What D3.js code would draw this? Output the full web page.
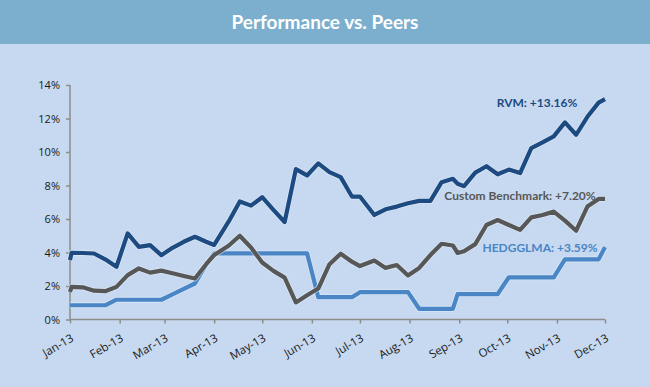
<!DOCTYPE html>
<html>
<head>
  <meta charset="utf-8">
  <title>Performance vs. Peers</title>
  <style>
    body {
      margin: 0;
      padding: 0;
      background: #c6d9f0;
    }

    .axis path,
    .axis line {
      stroke: #8c8c8c;
      stroke-width: 1.5;
    }

    .axis text {
      font-family: "Open Sans", sans-serif;
      font-size: 11px;
      fill: #1a1a1a;
    }

    .series {
      fill: none;
      stroke-width: 4.2;
      stroke-linejoin: round;
      stroke-linecap: butt;
    }

    .end-label {
      font-family: Lato, "Open Sans", sans-serif;
      font-weight: bold;
      font-size: 12px;
    }
  </style>
</head>
<body>
  <div id="chart"></div>

  <script src="https://d3js.org/d3.v7.min.js"></script>
  <script>
    // observation dates (weekly plus a few month-end points)
    var dates = ["2013-01-01", "2013-01-02", "2013-01-09", "2013-01-16", "2013-01-23", "2013-01-30",
      "2013-02-06", "2013-02-13", "2013-02-20", "2013-02-27", "2013-03-06", "2013-03-13",
      "2013-03-20", "2013-03-27", "2013-04-01", "2013-04-10", "2013-04-17", "2013-04-24",
      "2013-05-01", "2013-05-08", "2013-05-15", "2013-05-22", "2013-05-29", "2013-06-05",
      "2013-06-12", "2013-06-19", "2013-06-26", "2013-07-01", "2013-07-10", "2013-07-17",
      "2013-07-24", "2013-07-31", "2013-08-07", "2013-08-14", "2013-08-21", "2013-08-28",
      "2013-08-31", "2013-09-04", "2013-09-11", "2013-09-18", "2013-09-25", "2013-10-02",
      "2013-10-09", "2013-10-16", "2013-10-23", "2013-10-30", "2013-11-06", "2013-11-13",
      "2013-11-20", "2013-11-27", "2013-12-01"]

    // cumulative return, in percent
    var rvm = [3.55, 3.98, 3.97, 3.94, 3.59, 3.15, 5.14, 4.34, 4.44, 3.84, 4.28, 4.64,
      4.94, 4.64, 4.45, 5.84, 7.05, 6.8, 7.3, 6.55, 5.82, 8.98, 8.6, 9.32,
      8.8, 8.5, 7.34, 7.34, 6.24, 6.58, 6.74, 6.94, 7.08, 7.08, 8.2, 8.4,
      8.1, 7.96, 8.77, 9.15, 8.67, 8.95, 8.74, 10.23, 10.57, 10.93, 11.77, 11.03,
      12.1, 12.95, 13.16]

    var benchmark = [1.65, 1.95, 1.92, 1.72, 1.69, 1.95, 2.65, 3.05, 2.8, 2.92, 2.76, 2.6,
      2.45, 3.3, 3.85, 4.4, 5.0, 4.3, 3.4, 2.9, 2.5, 1.02, 1.45, 1.85,
      3.3, 3.93, 3.45, 3.19, 3.52, 3.08, 3.25, 2.63, 3.08, 3.85, 4.52, 4.42,
      3.97, 4.07, 4.5, 5.64, 5.94, 5.64, 5.35, 6.1, 6.24, 6.44, 5.9, 5.3,
      6.74, 7.2, 7.2]

    var hedge = [0.85, 0.85, 0.85, 0.85, 0.85, 1.18, 1.18, 1.18, 1.18, 1.18, 1.5, 1.83,
      2.15, 3.27, 3.95, 3.95, 3.95, 3.95, 3.95, 3.95, 3.95, 3.95, 3.95, 1.33,
      1.33, 1.33, 1.33, 1.63, 1.63, 1.63, 1.63, 1.63, 0.64, 0.64, 0.64, 0.64,
      1.52, 1.52, 1.52, 1.52, 1.52, 2.52, 2.52, 2.52, 2.52, 2.52, 3.59, 3.59,
      3.59, 3.59, 4.32]

    var yTicks = [0, 2, 4, 6, 8, 10, 12, 14]

    var seriesNames = ["HEDGGLMA", "Custom Benchmark", "RVM"]
    var seriesLabels = ["HEDGGLMA: +3.59%", "Custom Benchmark: +7.20%", "RVM: +13.16%"]
    var seriesColors = ["#4a85c6", "#575757", "#1d4a80"]

    var width = 650,
      height = 387

    var parseDate = d3.timeParse("%Y-%m-%d")
    var xDates = dates.map(parseDate)

    var svg = d3.select("#chart")
      .append("svg")
      .attr("width", width)
      .attr("height", height)

    // page background
    svg.append("rect")
      .attr("width", width)
      .attr("height", height)
      .attr("fill", "#c6d9f0")

    // title band
    svg.append("rect")
      .attr("width", width)
      .attr("height", 44)
      .attr("fill", "#7bafcd")

    svg.append("text")
      .attr("x", width / 2)
      .attr("y", 29)
      .attr("text-anchor", "middle")
      .attr("fill", "white")
      .style("font-family", "Lato, 'Open Sans', sans-serif")
      .style("font-weight", "bold")
      .style("font-size", "19px")
      .text("Performance vs. Peers")

    var x = d3.scaleTime()
      .domain([parseDate("2013-01-01"), parseDate("2013-12-01")])
      .range([70, 605])

    var y = d3.scaleLinear()
      .domain([0, 14])
      .range([319.5, 85])

    // y axis
    var yAxis = svg.append("g")
      .attr("class", "axis")
      .attr("transform", "translate(70,0)")
      .call(d3.axisLeft(y)
        .tickValues(yTicks)
        .tickSize(4)
        .tickPadding(6)
        .tickFormat(function(d) { return d + "%" }))

    // x axis
    var xAxis = svg.append("g")
      .attr("class", "axis")
      .attr("transform", "translate(0," + y(0) + ")")
      .call(d3.axisBottom(x)
        .ticks(d3.timeMonth.every(1))
        .tickSize(4)
        .tickFormat(d3.timeFormat("%b-%y")))

    // tilted month labels, ending just below each tick
    xAxis.selectAll("text")
      .attr("text-anchor", "end")
      .attr("x", 0)
      .attr("y", 0)
      .attr("dy", 0)
      .style("font-size", "11.5px")
      .attr("transform", "translate(4,21) rotate(-30)")

    // remove the end caps d3 puts on the domain line
    yAxis.select(".domain").attr("d", "M0," + y(14) + "V" + y(0))
    xAxis.select(".domain").attr("d", "M" + x.range()[0] + ",0H" + x.range()[1])

    var line = d3.line()
      .x(function(d) { return x(d.date) })
      .y(function(d) { return y(d.value) })

    var allSeries = [hedge, benchmark, rvm]

    allSeries.forEach(function(values, i) {
      var pts = values.map(function(v, j) {
        return { date: xDates[j], value: v }
      })
      // faint light halo under each line
      svg.append("path")
        .datum(pts)
        .attr("class", "series")
        .attr("d", line)
        .style("stroke", "#e4eefa")
        .style("stroke-width", 5.8)
        .style("opacity", 0.6)

      svg.append("path")
        .datum(pts)
        .attr("class", "series")
        .attr("d", line)
        .style("stroke", seriesColors[i])
    })

    // end labels
    var labelPos = [[540, 252], [520, 200], [537, 107]]

    svg.selectAll(".end-label")
      .data(seriesLabels)
      .enter().append("text")
      .attr("class", "end-label")
      .attr("text-anchor", "middle")
      .attr("x", function(d, i) { return labelPos[i][0] })
      .attr("y", function(d, i) { return labelPos[i][1] })
      .attr("fill", function(d, i) { return seriesColors[i] })
      .text(function(d) { return d })
  </script>
</body>
</html>
